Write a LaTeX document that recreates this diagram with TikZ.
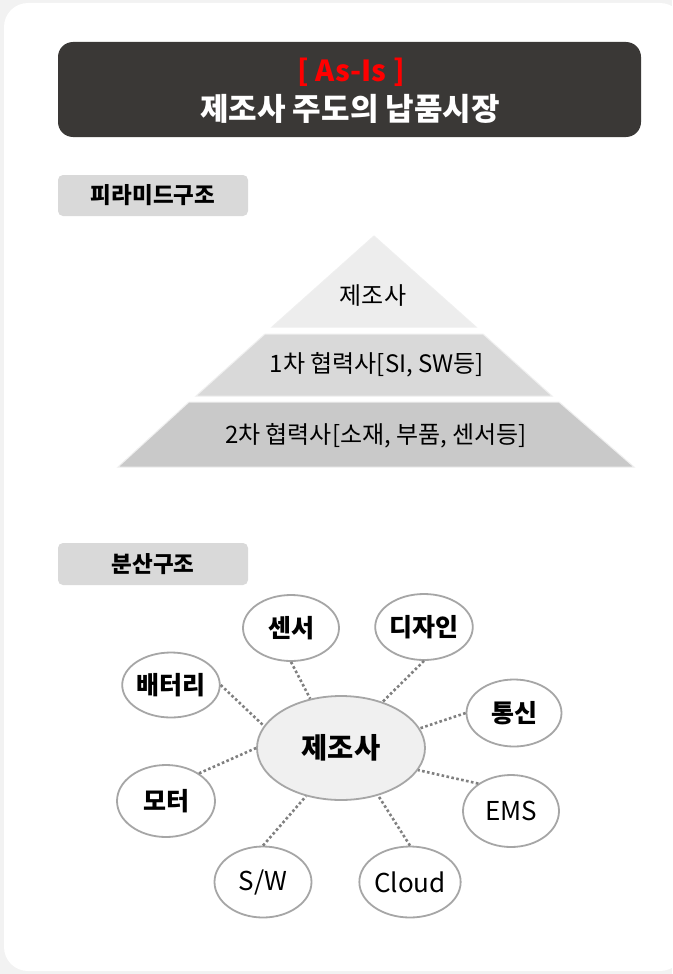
\documentclass[tikz,border=0pt]{standalone}
\usepackage{fontspec}
\setmainfont{Noto Sans CJK KR}
\usetikzlibrary{shapes.geometric}
\definecolor{bgout}{HTML}{F2F2F2}
\definecolor{hdr}{HTML}{3A3836}
\definecolor{lbl}{HTML}{D9D9D9}
\definecolor{tri1}{HTML}{EDEDED}
\definecolor{tri2}{HTML}{D9D9D9}
\definecolor{tri3}{HTML}{C9C9C9}
\definecolor{ringc}{HTML}{A6A6A6}
\definecolor{dotc}{HTML}{808080}
\definecolor{centerfill}{HTML}{F0F0F0}
\definecolor{asisred}{HTML}{FF0000}
\begin{document}
\begin{tikzpicture}[x=1pt,y=-1pt,
  bubble/.style={ellipse, draw=ringc, line width=1.8pt, fill=white, inner sep=0pt, font=\fontsize{25}{28}\selectfont\bfseries},
  latinbubble/.style={bubble, font=\fontsize{26}{28}\selectfont},
  link/.style={dotc, line width=2.6pt, dash pattern=on 2.6pt off 2.4pt},
  tag/.style={fill=lbl, rounded corners=5pt, minimum width=190pt, inner sep=0pt, font=\fontsize{22.5}{26}\selectfont\bfseries},
  pyrtext/.style={font=\fontsize{24}{27}\selectfont, inner sep=0pt},
  layer/.style={draw=white!70!tri3, line width=1pt}
]
\useasboundingbox (0,0) rectangle (672,974);
\begin{scope}
\clip (0,0) rectangle (672,974);
\fill[bgout] (0,0) rectangle (672,974);
\fill[white, rounded corners=24pt] (4,3) rectangle (684,971);
\end{scope}

% header
\node[fill=hdr, rounded corners=15pt, minimum width=583pt, minimum height=95pt, inner sep=0pt] (header) at (349.5,89.5) {};
\node[text=asisred, font=\fontsize{29}{32}\selectfont\bfseries, inner sep=0pt] (asis) at (351,72) {[ As-Is ]};
\node[text=white, font=\fontsize{31}{34}\selectfont\bfseries, inner sep=0pt] (title) at (350,109) {제조사 주도의 납품시장};

% tags
\node[tag, minimum height=41pt] (tag1) at (153,195.5) {피라미드구조};
\node[tag, minimum height=42pt] (tag2) at (153,564) {분산구조};

% pyramid
\filldraw[layer, fill=tri1] (374,236) -- (476,327) -- (272,327) -- cycle;
\filldraw[layer, fill=tri2] (265,334) -- (483,334) -- (552,396) -- (196,396) -- cycle;
\filldraw[layer, fill=tri3] (189,402) -- (559,402) -- (634,467) -- (118,467) -- cycle;
\node[pyrtext] (p1) at (373,296) {제조사};
\node[pyrtext] (p2) at (377,365) {1차 협력사[SI, SW등]};
\node[pyrtext] (p3) at (376,436) {2차 협력사[소재, 부품, 센서등]};

% distributed structure
\node[bubble, fill=centerfill, minimum width=168pt, minimum height=104pt, font=\fontsize{28.5}{32}\selectfont\bfseries] (c) at (341,748) {제조사};
\node[bubble, minimum width=96pt, minimum height=66pt] (sensor) at (291,628) {센서};
\node[bubble, minimum width=95pt, minimum height=66pt] (design) at (424,627) {디자인};
\node[bubble, minimum width=95pt, minimum height=65pt] (battery) at (171,685) {배터리};
\node[bubble, minimum width=95pt, minimum height=67pt] (comm) at (514,713) {통신};
\node[bubble, minimum width=98pt, minimum height=72pt] (motor) at (166,801) {모터};
\node[latinbubble, minimum width=96pt, minimum height=72pt] (ems) at (511,811) {EMS};
\node[latinbubble, minimum width=97pt, minimum height=71pt] (sw) at (263,882) {S/W};
\node[latinbubble, minimum width=96pt, minimum height=71pt] (cloud) at (410,882) {Cloud};

\draw[link] (sensor.south) -- (c.122);
\draw[link] (design.south) -- (c.48);
\draw[link] (battery.east) -- (c.164);
\draw[link] (comm.west) -- (c.14);
\draw[link] (motor.40) -- (c.180);
\draw[link] (ems.140) -- (c.344);
\draw[link] (sw.north) -- (c.234);
\draw[link] (cloud.north) -- (c.308);
\end{tikzpicture}
\end{document}
